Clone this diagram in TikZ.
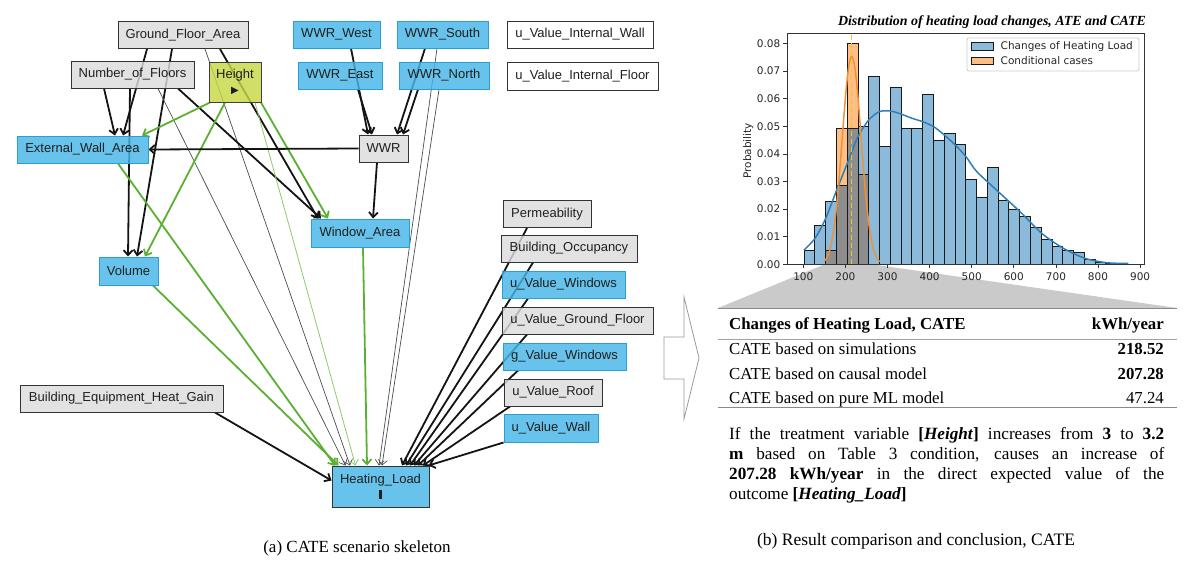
\documentclass[tikz,border=0pt]{standalone}
\usepackage{fontspec}
\usepackage{graphicx}
\setmainfont{Liberation Serif}
\newfontfamily\arialfont{Liberation Sans}
\newfontfamily\dejavufont{DejaVu Sans}
\usetikzlibrary{arrows.meta,backgrounds,calc}
\definecolor{nodeblue}{HTML}{45B6E6}
\definecolor{nodeblueborder}{HTML}{2A9FD3}
\definecolor{nodegray}{HTML}{DCDCDC}
\definecolor{heightfill}{HTML}{C8D845}
\definecolor{edgegreen}{HTML}{5BB033}
\definecolor{thingreen}{HTML}{8CCB6A}
\definecolor{histblue}{HTML}{8CBADB}
\definecolor{historange}{HTML}{FDBF86}
\definecolor{histgray}{HTML}{8E8E8E}
\definecolor{kdeblue}{HTML}{2F7EB6}
\definecolor{kdeorange}{HTML}{F39035}
\definecolor{dashyellow}{HTML}{F2C230}
\definecolor{trapgray}{HTML}{CACACA}
\definecolor{rulegray}{HTML}{8A8A8A}
\tikzset{
  nd/.style={draw, rectangle, font=\arialfont\fontsize{13}{15.5}\selectfont, text=black!88,
    inner xsep=2pt, inner ysep=0pt, minimum height=27pt, line width=1pt,
    fill opacity=0.82, text opacity=1},
  bluenode/.style={nd, fill=nodeblue, draw=nodeblueborder},
  graynode/.style={nd, fill=nodegray, draw=black!80},
  whitenode/.style={nd, fill=white, draw=black!80},
  arrowtip/.style={-{Straight Barb[length=5pt,width=9pt]}},
  blk/.style={arrowtip, line width=1.8pt, draw=black!92},
  thinblk/.style={arrowtip, line width=0.7pt, draw=black!70},
  grn/.style={arrowtip, line width=1.8pt, draw=edgegreen},
  thingrn/.style={arrowtip, line width=0.8pt, draw=thingreen},
  ticklab/.style={font=\dejavufont\fontsize{10.5}{12}\selectfont, text=black!85, inner sep=0pt},
  tabtext/.style={font=\fontsize{16.8}{20}\selectfont, inner sep=0pt},
}
\begin{document}
\begin{tikzpicture}[x=1pt,y=-1pt]
\useasboundingbox (0,0) rectangle (1196,562);

% ---------------- left panel: nodes ----------------
\node[graynode, minimum width=130pt] (gfa) at (183,35) {Ground\_Floor\_Area};
\node[graynode, minimum width=123pt] (nof) at (132.5,74.5) {Number\_of\_Floors};
\node[nd, fill=heightfill, draw=black!75, minimum width=52pt, minimum height=40pt, align=center] (height) at (235,82)
  {Height\\[-1pt]{\dejavufont\fontsize{10}{10}\selectfont ▶}};
\node[bluenode, minimum width=131pt] (ewa) at (82.5,149.5) {External\_Wall\_Area};
\node[bluenode, minimum width=87pt] (wwrw) at (336.5,34.5) {WWR\_West};
\node[bluenode, minimum width=91pt] (wwrs) at (442.5,34.5) {WWR\_South};
\node[whitenode, minimum width=146pt] (uviw) at (580,34.5) {u\_Value\_Internal\_Wall};
\node[bluenode, minimum width=84pt] (wwre) at (340,75.5) {WWR\_East};
\node[bluenode, minimum width=90pt] (wwrn) at (444,75.5) {WWR\_North};
\node[whitenode, minimum width=151pt, minimum height=28pt] (uvif) at (582.5,76) {u\_Value\_Internal\_Floor};
\node[graynode, minimum width=49pt] (wwr) at (383.5,148.5) {WWR};
\node[bluenode, minimum width=98pt, minimum height=28pt] (wa) at (360,233) {Window\_Area};
\node[bluenode, minimum width=59pt, minimum height=28pt] (vol) at (128.5,271) {Volume};
\node[graynode, minimum width=203pt] (behg) at (121.5,398.5) {Building\_Equipment\_Heat\_Gain};
\node[bluenode, draw=black!80, minimum width=97pt, minimum height=41pt, align=center] (hl) at (380.5,486.5)
  {Heating\_Load\\[0pt]\rule{3pt}{9pt}};
\node[graynode, minimum width=88pt] (perm) at (547,214) {Permeability};
\node[graynode, minimum width=136pt] (bo) at (569,248.5) {Building\_Occupancy};
\node[bluenode, minimum width=123pt] (uvw) at (563.5,284.5) {u\_Value\_Windows};
\node[graynode, minimum width=151pt] (uvgf) at (577.5,320.5) {u\_Value\_Ground\_Floor};
\node[bluenode, minimum width=123pt] (gvw) at (564.5,356.5) {g\_Value\_Windows};
\node[graynode, minimum width=98pt] (uvr) at (553,392.5) {u\_Value\_Roof};
\node[bluenode, minimum width=94pt, minimum height=28pt] (uvwall) at (551,428) {u\_Value\_Wall};

% ---------------- left panel: edges ----------------
\begin{pgfonlayer}{background}
\draw[blk] ([xshift=-36pt]gfa.south) -- ([xshift=40.5pt]ewa.north);
\draw[blk] ([xshift=-11pt]gfa.south) -- ([xshift=8.5pt]vol.north);
\draw[blk] ([xshift=37pt]gfa.south) -- ([xshift=-42pt]wa.north);
\draw[thinblk] ([xshift=22pt]gfa.south) -- ([xshift=-30.5pt]hl.north);
\draw[blk] ([xshift=-28.5pt]nof.south) -- ([xshift=32.5pt]ewa.north);
\draw[blk] ([xshift=-2.5pt]nof.south) -- ([xshift=-0.5pt]vol.north);
\draw[blk] ([xshift=45.5pt]nof.south) -- ([xshift=-39pt]wa.north);
\draw[thinblk] ([xshift=25.5pt]nof.south) -- ([xshift=-35pt]hl.north);
\draw[grn] ([xshift=-25pt]height.south) -- ([xshift=59.5pt]ewa.north);
\draw[grn] ([xshift=-10pt]height.south) -- ([xshift=16.5pt]vol.north);
\draw[grn] ([xshift=26pt]height.south) -- ([xshift=-32pt]wa.north);
\draw[thingrn] ([xshift=20pt]height.south) -- ([xshift=-25pt]hl.north);
\draw[grn] ([xshift=35.5pt]ewa.south) -- ([xshift=-45.5pt]hl.north);
\draw[grn] ([xshift=24.5pt]vol.south) -- ([xshift=-42pt]hl.north);
\draw[blk] ([xshift=93.5pt]behg.south) -- ([yshift=6pt]hl.west);
\draw[grn] ([xshift=3pt]wa.south) -- ([xshift=-13.5pt]hl.north);
\draw[blk] (wwr.west) -- (ewa.east);
\draw[blk] ([xshift=-6.5pt]wwr.south) -- ([xshift=13pt]wa.north);
\draw[blk] ([xshift=14.5pt]wwrw.south) -- ([xshift=-15.5pt]wwr.north);
\draw[blk] ([xshift=18pt]wwre.south) -- ([xshift=-11.5pt]wwr.north);
\draw[blk] ([xshift=-17.5pt]wwrs.south) -- ([xshift=13.5pt]wwr.north);
\draw[blk] ([xshift=-26pt]wwrn.south) -- ([xshift=19.5pt]wwr.north);
\draw[thinblk] ([xshift=-5.5pt]wwrs.south) -- ([xshift=-1.5pt]hl.north);
\draw[thinblk] ([xshift=-5pt]wwrn.south) -- ([xshift=1.5pt]hl.north);
\draw[blk] ([xshift=-20pt]perm.south) -- ([xshift=21.5pt]hl.north);
\draw[blk] ([xshift=-36pt]bo.south) -- ([xshift=25.5pt]hl.north);
\draw[blk] ([xshift=-35.5pt]uvw.south) -- ([xshift=29.5pt]hl.north);
\draw[blk] ([xshift=-50.5pt]uvgf.south) -- ([xshift=33.5pt]hl.north);
\draw[blk] ([xshift=-46.5pt]gvw.south) -- ([xshift=37.5pt]hl.north);
\draw[blk] ([xshift=-43pt]uvr.south) -- ([xshift=42.5pt]hl.north);
\draw[blk] (uvwall.south west) -- ([xshift=-1pt]hl.north east);
\end{pgfonlayer}

\node[font=\fontsize{17}{20}\selectfont, inner sep=0pt] (capa) at (357,548) {(a) CATE scenario skeleton};

% ---------------- right panel ----------------
% chevron
\draw[draw=black!40, line width=0.8pt] (664,337) -- (684,337) -- (684,297) -- (699,358) -- (684,419) -- (684,379) -- (664,379) -- cycle;
% gray trapezoid
\fill[trapgray] (823,265) -- (877,265) -- (1177,308) -- (718,308) -- cycle;

% title
\node[font=\bfseries\itshape, inner sep=0pt] (htitle) at (992,21.7)
  {\resizebox{308pt}{!}{Distribution of heating load changes, ATE and CATE}};

% blue bars
\foreach \h [count=\i from 0] in {250,225,201.7,185.7,128.3,126.7,76,146.7,87.3,128.3,128.3,94,140,133.3,144.3,179.3,197.7,167.3,200,209.3,216,227.3,239,246,250,252.3,259.3,262.3,263.3,263.3}
  \fill[histblue] ({804+10.78*\i},264.3) rectangle ({804+10.78*(\i+1)},\h);
% orange bars
\foreach \i/\h in {2/250,3/128.3,4/43.3,5/174.3}
  \fill[historange] ({804+10.78*\i},264.3) rectangle ({804+10.78*(\i+1)},\h);
% overlap
\foreach \i/\h in {2/250,3/185.7,4/128.3,5/174.3}
  \fill[histgray] ({804+10.78*\i},264.3) rectangle ({804+10.78*(\i+1)},\h);
% outlines
\foreach \h [count=\i from 0] in {250,225,201.7,185.7,128.3,126.7,76,146.7,87.3,128.3,128.3,94,140,133.3,144.3,179.3,197.7,167.3,200,209.3,216,227.3,239,246,250,252.3,259.3,262.3,263.3,263.3}
  \draw[black!90, line width=0.8pt] ({804+10.78*\i},264.3) rectangle ({804+10.78*(\i+1)},\h);
\foreach \i/\h in {2/250,3/128.3,4/43.3,5/174.3}
  \draw[black!90, line width=0.8pt] ({804+10.78*\i},264.3) rectangle ({804+10.78*(\i+1)},\h);

% KDE curves
\draw[kdeblue, line width=1.5pt] plot[smooth] coordinates {(804,250) (815,238.3) (825.7,218.3) (836.7,190) (847.3,163.3) (858,136.7) (868.7,120) (879.3,111.7) (890.3,111) (901,114) (912,118.3) (922.7,121.7) (933.7,126.7) (944.3,135) (955.3,145) (966,156.7) (976.7,171.5) (998.3,191.7) (1020,211.7) (1041.7,233.3) (1063.3,248.3) (1085,258.3) (1106.7,262.7) (1128.3,263.5)};
\draw[kdeorange, line width=1.5pt] plot[domain=-28:28, samples=70] ({851.7+\x},{264.3-207.6*exp(-(\x*\x)/(2*90))});
% dashed yellow line
\draw[dashyellow, line width=1.3pt, dash pattern=on 5pt off 3pt] (851.7,264.3) -- (851.7,33);

% frame
\draw[black!80, line width=0.8pt] (787,33) rectangle (1144,264.3);
% y ticks
\foreach \k/\lab in {0/0.00,1/0.01,2/0.02,3/0.03,4/0.04,5/0.05,6/0.06,7/0.07,8/0.08}{
  \draw[black!80, line width=0.8pt] (787,{264.3-27.6*\k}) -- (783,{264.3-27.6*\k});
  \node[ticklab, anchor=east] (ytick\k) at (780.5,{264.3-27.6*\k}) {\lab};
}
% x ticks
\foreach \k/\lab in {0/100,1/200,2/300,3/400,4/500,5/600,6/700,7/800,8/900}{
  \draw[black!80, line width=0.8pt] ({803.3+42.1*\k},264.3) -- ({803.3+42.1*\k},268.3);
  \node[ticklab] (xtick\k) at ({803.3+42.1*\k},276.5) {\lab};
}
\node[ticklab, rotate=90] (ylab) at (748.3,150.8) {Probability};

% legend
\draw[black!20, fill=white, fill opacity=0.85, rounded corners=2pt, line width=0.8pt] (967,38) rectangle (1139,71);
\draw[black!90, fill=histblue, line width=0.8pt] (971,42.7) rectangle (993,50);
\draw[black!90, fill=historange, line width=0.8pt] (971,57.7) rectangle (993,64.3);
\node[ticklab, anchor=west] (leg1) at (1000.5,46.3) {Changes of Heating Load};
\node[ticklab, anchor=west] (leg2) at (1000.5,61) {Conditional cases};

% table
\draw[rulegray, line width=1.5pt] (718,308.3) -- (1177,308.3);
\draw[rulegray!80, line width=0.8pt] (718,339) -- (1177,339);
\draw[rulegray, line width=1.3pt] (718,407.3) -- (1177,407.3);
\node[tabtext, anchor=base west] (th1) at (729,329.5) {\bfseries Changes of Heating Load, CATE};
\node[tabtext, anchor=base east] (th2) at (1164,329.5) {\bfseries kWh/year};
\node[tabtext, anchor=base west] (r1a) at (729,354.5) {CATE based on simulations};
\node[tabtext, anchor=base east] (r1b) at (1164,354.5) {\bfseries 218.52};
\node[tabtext, anchor=base west] (r2a) at (729,379) {CATE based on causal model};
\node[tabtext, anchor=base east] (r2b) at (1164,379) {\bfseries 207.28};
\node[tabtext, anchor=base west] (r3a) at (729,403.5) {CATE based on pure ML model};
\node[tabtext, anchor=base east] (r3b) at (1164,403.5) {47.24};

% conclusion paragraph
\node[tabtext, font=\fontsize{17.2}{20}\selectfont, anchor=north west, text width=435pt, align=justify] (concl) at (729,427.6)
  {If the treatment variable \textbf{[\textit{Height}]} increases from \textbf{3} to \textbf{3.2}\linebreak
   \textbf{m} based on Table 3 condition, causes an increase of\linebreak
   \textbf{207.28 kWh/year} in the direct expected value of the\linebreak
   outcome \textbf{[\textit{Heating\_Load}]}};

\node[font=\fontsize{17.5}{20}\selectfont, inner sep=0pt] (capb) at (916,541) {(b) Result comparison and conclusion, CATE};
\end{tikzpicture}
\end{document}
